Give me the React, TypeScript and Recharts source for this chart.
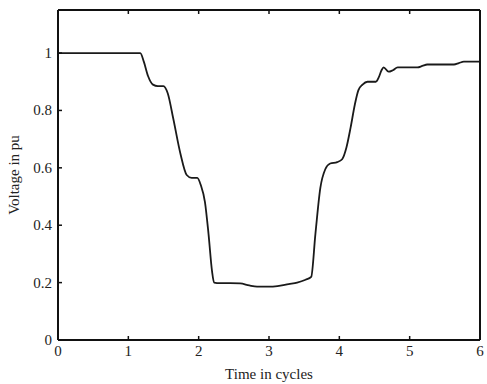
import { LineChart, Line, XAxis, YAxis } from 'recharts'

// time in cycles and voltage in pu
const times = [
  0, 0.5, 1.0, 1.17, 1.22, 1.28, 1.35, 1.42, 1.5, 1.56, 1.64, 1.74, 1.83, 1.9, 1.98, 2.03,
  2.09, 2.14, 2.19, 2.22, 2.3, 2.45, 2.59, 2.72, 2.83, 3.0, 3.12, 3.28, 3.4, 3.52, 3.6,
  3.66, 3.73, 3.8, 3.87, 3.97, 4.04, 4.1, 4.16, 4.22, 4.27, 4.33, 4.4, 4.52, 4.56, 4.6,
  4.63, 4.7, 4.76, 4.83, 5.0, 5.11, 5.18, 5.25, 5.45, 5.63, 5.7, 5.77, 6.0,
]
const voltage = [
  1.0, 1.0, 1.0, 1.0, 0.97, 0.92, 0.89, 0.885, 0.885, 0.86, 0.77, 0.65, 0.575, 0.565, 0.565, 0.54,
  0.48, 0.37, 0.24, 0.2, 0.198, 0.198, 0.197, 0.19, 0.186, 0.186, 0.188, 0.195, 0.2, 0.21, 0.22,
  0.37, 0.53, 0.595, 0.615, 0.62, 0.63, 0.67, 0.74, 0.82, 0.87, 0.89, 0.9, 0.9, 0.915, 0.94,
  0.95, 0.935, 0.94, 0.95, 0.95, 0.95, 0.955, 0.96, 0.96, 0.96, 0.965, 0.97, 0.97,
]
const xTicks = [0, 1, 2, 3, 4, 5, 6]
const yTicks = [0, 0.2, 0.4, 0.6, 0.8, 1]

const data = times.map((t, i) => ({ t, v: voltage[i] }))

const font = { fontFamily: '"Liberation Serif", "DejaVu Serif", serif', fontSize: 15, fill: '#222' }
const ink = '#111'

// ticks point inward, like the original figure
const BottomTick = (p: any) => (
  <g>
    <line x1={p.x} y1={p.y} x2={p.x} y2={p.y - 4} stroke={ink} strokeWidth={1.5} />
    <text x={p.x} y={p.y + 16} textAnchor="middle" {...font}>{p.payload.value}</text>
  </g>
)
const TopTick = (p: any) => (
  <line x1={p.x} y1={p.y} x2={p.x} y2={p.y + 4} stroke={ink} strokeWidth={1.5} />
)
const LeftTick = (p: any) => (
  <g>
    <line x1={p.x} y1={p.y} x2={p.x + 4} y2={p.y} stroke={ink} strokeWidth={1.5} />
    <text x={p.x - 6} y={p.y + 5} textAnchor="end" {...font}>{p.payload.value}</text>
  </g>
)
const RightTick = (p: any) => (
  <line x1={p.x} y1={p.y} x2={p.x - 4} y2={p.y} stroke={ink} strokeWidth={1.5} />
)

export default function App() {
  return (
    <div style={{ position: 'absolute', left: 0, top: 0, background: '#fff' }}>
      <LineChart width={487} height={384} data={data} margin={{ top: 9, right: 6, bottom: 0, left: 0 }}>
        <XAxis
          xAxisId="bottom"
          dataKey="t"
          type="number"
          domain={[0, 6]}
          ticks={xTicks}
          height={44}
          stroke={ink}
          strokeWidth={2}
          tickLine={false}
          tickSize={0}
          tickMargin={0}
          tick={BottomTick}
          label={{ value: 'Time in cycles', position: 'insideBottom', offset: 5, style: font }}
        />
        <XAxis
          xAxisId="top"
          orientation="top"
          dataKey="t"
          type="number"
          domain={[0, 6]}
          ticks={xTicks}
          height={1}
          stroke={ink}
          strokeWidth={2}
          tickLine={false}
          tickSize={0}
          tickMargin={0}
          tick={TopTick}
        />
        <YAxis
          yAxisId="left"
          type="number"
          domain={[0, 1.15]}
          ticks={yTicks}
          width={58}
          stroke={ink}
          strokeWidth={2}
          tickLine={false}
          tickSize={0}
          tickMargin={0}
          tick={LeftTick}
          label={{ value: 'Voltage in pu', angle: -90, position: 'insideLeft', offset: 14, style: { ...font, textAnchor: 'middle' } }}
        />
        <YAxis
          yAxisId="right"
          orientation="right"
          type="number"
          domain={[0, 1.15]}
          ticks={yTicks}
          width={1}
          stroke={ink}
          strokeWidth={2}
          tickLine={false}
          tickSize={0}
          tickMargin={0}
          tick={RightTick}
        />
        <Line
          xAxisId="bottom"
          yAxisId="left"
          dataKey="v"
          type="monotone"
          stroke="#1a1a1a"
          strokeWidth={1.8}
          dot={false}
          isAnimationActive={false}
        />
      </LineChart>
    </div>
  )
}
